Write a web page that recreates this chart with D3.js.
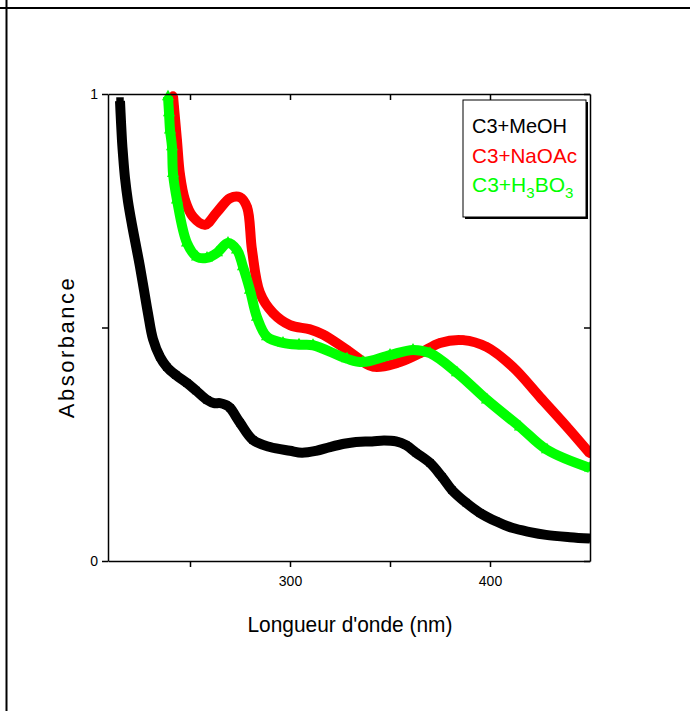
<!DOCTYPE html>
<html>
<head>
<meta charset="utf-8">
<script src="https://cdn.jsdelivr.net/npm/d3@7"></script>
<style>
  body { margin: 0; background: #fff; }
  svg { display: block; font-family: "Liberation Sans", Arial, sans-serif; }
</style>
</head>
<body>
<svg id="chart"></svg>
<script>
//UV-vis spectra of C3 with shift reagents

//Black squares - C3 + MeOH
var meohNm  = [215, 215.5, 216, 216.5, 217.5, 219, 221, 223, 225, 227, 229, 231.5, 235, 238.5, 243, 248.5, 253, 258.5, 262, 265, 268, 270,
               275, 281.5, 290, 300, 306, 313, 320, 327, 333, 341, 347, 353, 358, 363, 370, 376, 381, 388, 395, 403,
               411, 420, 428, 440, 450];
var meohAbs = [0.985, 0.94, 0.90, 0.87, 0.82, 0.77, 0.72, 0.675, 0.63, 0.58, 0.53, 0.475, 0.437, 0.415, 0.398, 0.381, 0.365, 0.345, 0.338, 0.338, 0.334, 0.328,
               0.296, 0.259, 0.244, 0.236, 0.232, 0.236, 0.244, 0.251, 0.255, 0.256, 0.258, 0.256, 0.248, 0.232, 0.21, 0.18, 0.152, 0.125, 0.103, 0.085,
               0.071, 0.062, 0.056, 0.051, 0.048];

//Red circles - C3 + NaOAc
var naoacNm  = [241.5, 242, 243.5, 245, 247.5, 251.5, 257.5, 263.5, 270, 275, 278.5, 281, 285, 291.5, 300, 310, 316.5, 328.5, 341.5, 353.5,
                365, 375, 386.5, 398.5, 411.5, 425, 438.5, 450];
var naoacAbs = [0.996, 0.972, 0.90, 0.827, 0.773, 0.737, 0.72, 0.747, 0.777, 0.779, 0.758, 0.666, 0.574, 0.531, 0.505, 0.496, 0.485, 0.452, 0.416, 0.424,
                0.445, 0.467, 0.473, 0.458, 0.415, 0.351, 0.287, 0.23];

//Green triangles - C3 + H3BO3
var h3bo3Nm  = [239, 239.5, 240, 241, 241.5, 243.5, 248.5, 253.5, 258.5, 263.5, 269, 273.5, 276.5, 280, 283.5, 288.5, 296.5, 304.5, 311.5, 328.5,
                336.5, 350, 361.5, 370, 383.5, 398.5, 415, 428.5, 450];
var h3bo3Abs = [0.994, 0.96, 0.923, 0.887, 0.83, 0.773, 0.681, 0.651, 0.649, 0.66, 0.681, 0.666, 0.63, 0.58, 0.522, 0.48, 0.467, 0.463, 0.462, 0.433,
                0.426, 0.441, 0.452, 0.445, 0.403, 0.345, 0.287, 0.238, 0.199];

var xTicks = [250, 300, 350, 400];
var xTickLabels = {300: "300", 400: "400"};
var yTicks = [0, 0.5, 1];
var yTickLabels = {0: "0", 1: "1"};

var seriesNames = ["C3+MeOH", "C3+NaOAc", "C3+H3BO3"];

var dimensions = {
    width: 690,
    height: 711,
    margin: { top: 94, right: 100, bottom: 150, left: 108 }
};

var svg = d3.select("#chart")
            .attr("width", dimensions.width)
            .attr("height", dimensions.height);

//Page frame lines
svg.append("line").attr("x1", 0).attr("x2", 690).attr("y1", 8).attr("y2", 8)
   .attr("stroke", "#000").attr("stroke-width", 2);
svg.append("line").attr("x1", 6.5).attr("x2", 6.5).attr("y1", 0).attr("y2", 711)
   .attr("stroke", "#000").attr("stroke-width", 2);

var xLeft = dimensions.margin.left,
    xRight = 590,
    yBottom = 561,
    yTop = dimensions.margin.top;

var xScale = d3.scaleLinear().domain([209, 450]).range([xLeft, xRight]);
var yScale = d3.scaleLinear().domain([0, 1]).range([yBottom, yTop]);

//Clip to plot area
svg.append("clipPath").attr("id", "plotclip")
   .append("rect")
   .attr("x", xLeft).attr("y", yTop - 6)
   .attr("width", xRight - xLeft).attr("height", yBottom - yTop + 6);

var plot = svg.append("g").attr("clip-path", "url(#plotclip)");

var series = [
    { nm: meohNm,  abs: meohAbs,  color: "#000000", symbol: d3.symbolSquare,   size: 56 },
    { nm: naoacNm, abs: naoacAbs, color: "#ff0000", symbol: d3.symbolCircle,   size: 64 },
    { nm: h3bo3Nm, abs: h3bo3Abs, color: "#00ff00", symbol: d3.symbolTriangle, size: 64 }
];

var lineGen = d3.line()
    .x(function(d){ return xScale(d[0]); })
    .y(function(d){ return yScale(d[1]); })
    .curve(d3.curveCatmullRom.alpha(0.5));

series.forEach(function(s){
    var pts = s.nm.map(function(v, i){ return [v, s.abs[i]]; });
    plot.append("path")
        .datum(pts)
        .attr("d", lineGen)
        .attr("fill", "none")
        .attr("stroke", s.color)
        .attr("stroke-width", 10)
        .attr("stroke-linejoin", "round");
    plot.append("g").selectAll("path")
        .data(pts)
        .join("path")
        .attr("d", d3.symbol().type(s.symbol).size(s.size))
        .attr("transform", function(d){ return "translate(" + xScale(d[0]) + "," + yScale(d[1]) + ")"; })
        .attr("fill", s.color);
});

//Axes
var bottomAxis = svg.append("g")
    .attr("transform", "translate(0," + yBottom + ")")
    .call(d3.axisBottom(xScale).tickValues(xTicks).tickSize(6).tickSizeOuter(0)
          .tickFormat(function(d){ return xTickLabels[d] || ""; }));
var topAxis = svg.append("g")
    .attr("transform", "translate(0," + yTop + ")")
    .call(d3.axisTop(xScale).tickValues(xTicks).tickSize(-6).tickSizeOuter(0).tickFormat(""));
var leftAxis = svg.append("g")
    .attr("transform", "translate(" + xLeft + ",0)")
    .call(d3.axisLeft(yScale).tickValues(yTicks).tickSize(6).tickSizeOuter(0)
          .tickFormat(function(d){ return yTickLabels[d] || ""; }));
var rightAxis = svg.append("g")
    .attr("transform", "translate(" + xRight + ",0)")
    .call(d3.axisRight(yScale).tickValues(yTicks).tickSize(-6).tickSizeOuter(0).tickFormat(""));

[bottomAxis, topAxis, leftAxis, rightAxis].forEach(function(a){
    a.select(".domain").attr("stroke", "#000").attr("stroke-width", 1.5);
    a.selectAll(".tick line").attr("stroke", "#000").attr("stroke-width", 1.5);
    a.selectAll("text").attr("fill", "#000")
     .style("font-family", "'Liberation Sans', Arial, sans-serif")
     .style("font-size", "14px");
});
bottomAxis.selectAll("text").attr("dy", "1.15em");
leftAxis.selectAll("text").attr("x", -10);

//Axis titles
svg.append("text")
    .attr("x", 350)
    .attr("y", 632)
    .attr("text-anchor", "middle")
    .attr("textLength", 205)
    .attr("lengthAdjust", "spacingAndGlyphs")
    .style("font-size", "22px")
    .text("Longueur d'onde (nm)");

svg.append("text")
    .attr("transform", "translate(74,347) rotate(-90)")
    .attr("text-anchor", "middle")
    .style("font-size", "22px")
    .style("letter-spacing", "2.5px")
    .text("Absorbance");

//Legend
var legend = svg.append("g");
legend.append("rect").attr("x", 465).attr("y", 102).attr("width", 123).attr("height", 117).attr("fill", "#000");
legend.append("rect").attr("x", 463).attr("y", 100).attr("width", 123).attr("height", 117)
      .attr("fill", "#fff").attr("stroke", "#000").attr("stroke-width", 1);

var legendY = [133, 163, 192];
legend.append("text").attr("x", 472).attr("y", legendY[0]).attr("fill", "#000")
      .style("font-size", "21px").attr("textLength", 95).attr("lengthAdjust", "spacingAndGlyphs")
      .text(seriesNames[0]);
legend.append("text").attr("x", 472).attr("y", legendY[1]).attr("fill", "#ff0000")
      .style("font-size", "21px").attr("textLength", 105).attr("lengthAdjust", "spacingAndGlyphs")
      .text(seriesNames[1]);

var h3 = legend.append("text").attr("x", 472).attr("y", legendY[2]).attr("fill", "#00ff00")
      .style("font-size", "21px");
h3.append("tspan").text("C3+H");
h3.append("tspan").attr("dy", 6).style("font-size", "15px").text("3");
h3.append("tspan").attr("dy", -6).text("BO");
h3.append("tspan").attr("dy", 6).style("font-size", "15px").text("3");
</script>
</body>
</html>
